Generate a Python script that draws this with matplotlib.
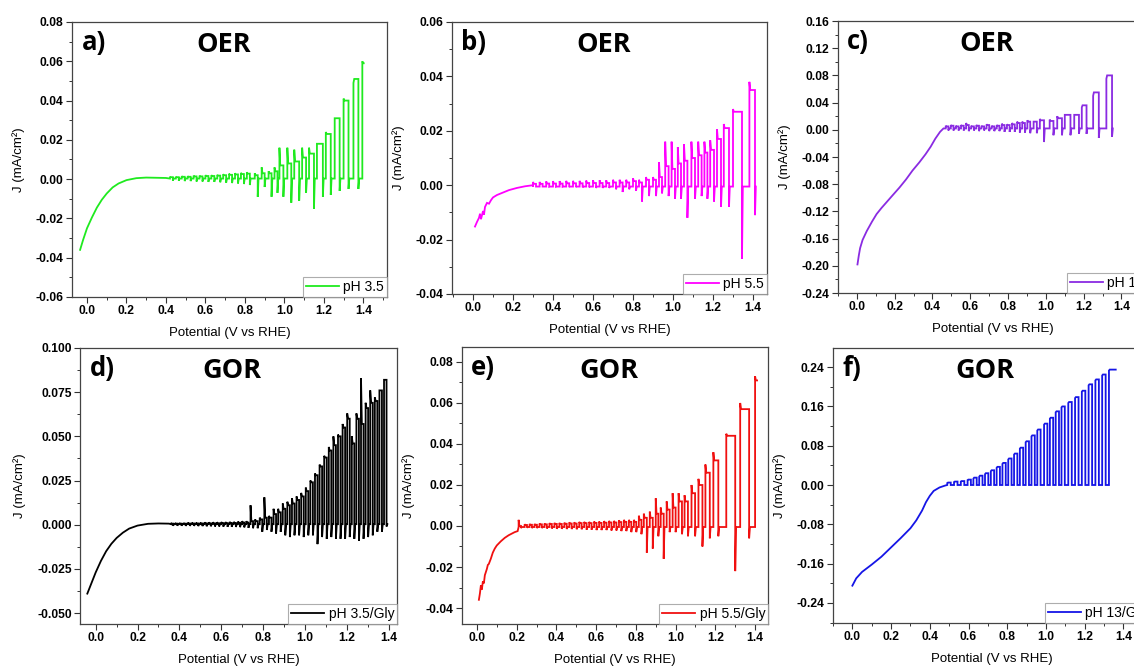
import numpy as np
import matplotlib
matplotlib.use("Agg")
import matplotlib.pyplot as plt
from matplotlib.ticker import MultipleLocator, AutoMinorLocator, FormatStrFormatter

plt.rcParams["font.family"] = ["Liberation Sans", "DejaVu Sans"]
plt.rcParams["axes.unicode_minus"] = False

# ---------------- data ----------------
# Panel a: OER pH 3.5
a_base_V = [-0.035, -0.02, 0.0, 0.025, 0.05, 0.075, 0.10, 0.13, 0.16, 0.20, 0.25, 0.30, 0.40]
a_base_J = [-0.036, -0.031, -0.025, -0.0195, -0.0145, -0.0105, -0.0073, -0.0042, -0.0022, -0.0005, 0.0005, 0.0008, 0.0006]
a_on = [0.42, 0.45, 0.48, 0.51, 0.54, 0.57, 0.60, 0.63, 0.66, 0.69, 0.72, 0.75, 0.78, 0.81,
        0.85, 0.885, 0.92, 0.95, 0.975, 1.015, 1.05, 1.09, 1.125, 1.165, 1.21, 1.255, 1.30, 1.35, 1.395]
a_off = [0.435, 0.465, 0.495, 0.525, 0.555, 0.585, 0.615, 0.645, 0.675, 0.705, 0.735, 0.765, 0.795, 0.825,
         0.865, 0.90, 0.935, 0.965, 0.995, 1.035, 1.075, 1.11, 1.15, 1.195, 1.235, 1.28, 1.325, 1.375, 1.402]
a_peak = [0.0012, 0.0012, 0.0015, 0.0015, 0.0018, 0.0018, 0.002, 0.002, 0.0022, 0.0025, 0.0028, 0.003, 0.0032, 0.0035,
          0.003, 0.006, 0.004, 0.006, 0.016, 0.016, 0.015, 0.016, 0.016, 0.018, 0.024, 0.031, 0.041, 0.049, 0.060]
a_plat = [0.001, 0.001, 0.0012, 0.0012, 0.0014, 0.0014, 0.0016, 0.0016, 0.0018, 0.002, 0.0022, 0.0024, 0.0026, 0.0028,
          0.002, 0.003, 0.003, 0.004, 0.007, 0.008, 0.009, 0.011, 0.013, 0.018, 0.023, 0.031, 0.040, 0.051, 0.059]
a_dip = [-0.0008, -0.0008, -0.001, -0.001, -0.0012, -0.0012, -0.0014, -0.0014, -0.0016, -0.0018, -0.002, -0.0022, -0.0025, -0.003,
         -0.009, -0.004, -0.009, -0.007, -0.009, -0.012, -0.011, -0.007, -0.015, -0.009, -0.008, -0.006, -0.005, -0.005, np.nan]
a_dark = 0.0003

# Panel b: OER pH 5.5
b_base_V = [0.01, 0.02, 0.03, 0.035, 0.04, 0.05, 0.055, 0.06, 0.07, 0.08, 0.09, 0.10, 0.12, 0.15, 0.18, 0.22, 0.26, 0.30]
b_base_J = [-0.0152, -0.0135, -0.012, -0.0105, -0.0125, -0.0095, -0.0108, -0.008, -0.0065, -0.0068, -0.0055, -0.0045,
            -0.0036, -0.0027, -0.0018, -0.001, -0.0004, 0.0]
b_on = [0.30, 0.333, 0.366, 0.40, 0.433, 0.466, 0.50, 0.533, 0.566, 0.60, 0.633, 0.666, 0.70, 0.733, 0.766, 0.80,
        0.83, 0.865, 0.90, 0.93, 0.961, 0.993, 1.024, 1.055, 1.092, 1.126, 1.157, 1.186, 1.22, 1.254, 1.30, 1.382]
b_off = [0.315, 0.348, 0.381, 0.415, 0.448, 0.481, 0.515, 0.548, 0.581, 0.615, 0.648, 0.681, 0.715, 0.748, 0.781, 0.815,
         0.845, 0.88, 0.915, 0.945, 0.978, 1.01, 1.04, 1.072, 1.11, 1.143, 1.172, 1.205, 1.24, 1.28, 1.345, 1.41]
b_peak = [0.0012, 0.0012, 0.0014, 0.0015, 0.0015, 0.0016, 0.0016, 0.0016, 0.0017, 0.0018, 0.0018, 0.0018, 0.002, 0.002, 0.002, 0.0025,
          0.002, 0.003, 0.003, 0.0085, 0.016, 0.016, 0.014, 0.015, 0.016, 0.016, 0.016, 0.0165, 0.0205, 0.0225, 0.028, 0.038]
b_plat = [0.0005, 0.0005, 0.0006, 0.0006, 0.0006, 0.0007, 0.0007, 0.0007, 0.0008, 0.0008, 0.0008, 0.0008, 0.001, 0.001, 0.001, 0.0015,
          0.001, 0.002, 0.002, 0.003, 0.007, 0.006, 0.008, 0.009, 0.010, 0.011, 0.012, 0.013, 0.017, 0.021, 0.027, 0.035]
b_dip = [-0.0005, -0.0005, -0.0006, -0.0006, -0.0006, -0.0007, -0.0007, -0.0008, -0.0008, -0.001, -0.001, -0.001, -0.0015, -0.0025, -0.0015, -0.002,
         -0.006, -0.004, -0.004, -0.003, -0.004, -0.005, -0.005, -0.012, -0.005, -0.004, -0.005, -0.006, -0.008, -0.008, -0.027, -0.011]
b_dark = -0.0005

# Panel c: OER pH 13
c_base_V = [0.003, 0.01, 0.017, 0.03, 0.052, 0.08, 0.104, 0.13, 0.155, 0.19, 0.225, 0.26, 0.294, 0.33, 0.363, 0.39,
            0.415, 0.44, 0.458]
c_base_J = [-0.198, -0.185, -0.174, -0.162, -0.149, -0.135, -0.124, -0.115, -0.107, -0.096, -0.085, -0.073, -0.060,
            -0.048, -0.036, -0.025, -0.013, -0.003, 0.002]
c_on = [0.47, 0.497, 0.524, 0.551, 0.578, 0.605, 0.632, 0.659, 0.686, 0.713, 0.74, 0.767, 0.794, 0.821, 0.848, 0.875, 0.902,
        0.935, 0.968, 1.02, 1.06, 1.10, 1.15, 1.19, 1.25, 1.32]
c_off = [0.484, 0.511, 0.538, 0.565, 0.592, 0.619, 0.646, 0.673, 0.70, 0.727, 0.754, 0.781, 0.808, 0.835, 0.862, 0.889, 0.917,
         0.952, 0.99, 1.04, 1.085, 1.13, 1.175, 1.215, 1.28, 1.35]
c_peak = [0.006, 0.007, 0.006, 0.007, 0.010, 0.006, 0.007, 0.006, 0.008, 0.006, 0.007, 0.009, 0.008, 0.010, 0.012, 0.012, 0.014,
          0.012, 0.016, 0.015, 0.020, 0.022, 0.022, 0.033, 0.050, 0.075]
c_plat = [0.005, 0.006, 0.005, 0.006, 0.007, 0.005, 0.006, 0.005, 0.007, 0.005, 0.006, 0.007, 0.007, 0.008, 0.010, 0.010, 0.012,
          0.012, 0.014, 0.013, 0.017, 0.022, 0.022, 0.036, 0.055, 0.080]
c_dip = [-0.001, -0.001, -0.001, -0.001, -0.002, -0.001, -0.002, -0.001, -0.002, -0.002, -0.002, -0.003, -0.003, -0.003, -0.004, -0.004, -0.005,
         -0.005, -0.018, -0.008, -0.008, -0.008, -0.006, -0.006, -0.012, -0.010]
c_dark = 0.002

# Panel d: GOR pH 3.5 + glycerol
d_base_V = [-0.04, -0.02, 0.0, 0.025, 0.05, 0.075, 0.10, 0.13, 0.16, 0.20, 0.25, 0.30, 0.35]
d_base_J = [-0.039, -0.033, -0.027, -0.0205, -0.015, -0.0108, -0.0075, -0.0045, -0.0022, -0.0005, 0.0005, 0.0007, 0.0006]
d_on = [0.36, 0.38, 0.40, 0.42, 0.44, 0.46, 0.48, 0.50, 0.52, 0.54, 0.56, 0.58, 0.60, 0.62, 0.64, 0.66, 0.68, 0.70, 0.72,
        0.74, 0.762, 0.784, 0.806, 0.828, 0.85, 0.872, 0.894, 0.916, 0.938, 0.96, 0.982, 1.004, 1.026, 1.048, 1.07, 1.092,
        1.114, 1.136, 1.158, 1.18, 1.202, 1.224, 1.246, 1.268, 1.29, 1.312, 1.334, 1.356, 1.378]
d_off = [0.37, 0.39, 0.41, 0.43, 0.45, 0.47, 0.49, 0.51, 0.53, 0.55, 0.57, 0.59, 0.61, 0.63, 0.65, 0.67, 0.69, 0.71, 0.73,
         0.752, 0.774, 0.796, 0.818, 0.84, 0.862, 0.884, 0.906, 0.928, 0.95, 0.972, 0.994, 1.016, 1.038, 1.06, 1.082, 1.104,
         1.126, 1.148, 1.17, 1.192, 1.214, 1.236, 1.258, 1.28, 1.302, 1.324, 1.346, 1.368, 1.39]
d_peak = [0.001, 0.001, 0.001, 0.001, 0.0012, 0.0012, 0.0012, 0.0012, 0.0013, 0.0013, 0.0014, 0.0014, 0.0015, 0.0015, 0.0016, 0.0016, 0.0018, 0.002, 0.002,
          0.011, 0.003, 0.004, 0.0155, 0.005, 0.009, 0.009, 0.012, 0.013, 0.015, 0.016, 0.018, 0.021, 0.025, 0.029, 0.034, 0.039,
          0.044, 0.050, 0.051, 0.057, 0.063, 0.050, 0.063, 0.083, 0.069, 0.076, 0.072, 0.076, 0.082]
d_plat = [0.0006, 0.0006, 0.0006, 0.0006, 0.0007, 0.0007, 0.0007, 0.0007, 0.0008, 0.0008, 0.0008, 0.0008, 0.0009, 0.0009, 0.001, 0.001, 0.0011, 0.0012, 0.0012,
          0.002, 0.002, 0.003, 0.004, 0.004, 0.006, 0.007, 0.009, 0.011, 0.012, 0.014, 0.016, 0.019, 0.024, 0.028, 0.033, 0.038,
          0.042, 0.045, 0.050, 0.055, 0.060, 0.046, 0.060, 0.057, 0.066, 0.069, 0.070, 0.076, 0.082]
d_dip = [-0.0006, -0.0006, -0.0006, -0.0007, -0.0007, -0.0007, -0.0008, -0.0008, -0.0009, -0.0009, -0.001, -0.001, -0.0011, -0.0012, -0.0012, -0.0013, -0.0014, -0.0015, -0.0018,
         -0.002, -0.002, -0.004, -0.003, -0.004, -0.005, -0.004, -0.006, -0.007, -0.006, -0.006, -0.007, -0.006, -0.006, -0.011, -0.007, -0.008,
         -0.007, -0.008, -0.008, -0.008, -0.007, -0.008, -0.009, -0.008, -0.007, -0.006, -0.004, -0.004, -0.001]
d_dark = 0.0003

# Panel e: GOR pH 5.5 + glycerol
e_base_V = [0.01, 0.015, 0.02, 0.025, 0.03, 0.035, 0.04, 0.05, 0.055, 0.06, 0.07, 0.08, 0.09, 0.10, 0.12, 0.14, 0.16,
            0.19, 0.205]
e_base_J = [-0.036, -0.033, -0.029, -0.031, -0.027, -0.028, -0.024, -0.021, -0.019, -0.0185, -0.016, -0.013, -0.011,
            -0.0095, -0.0075, -0.0058, -0.0045, -0.003, -0.0025]
e_on = [0.21, 0.24, 0.265, 0.29, 0.315, 0.34, 0.365, 0.39, 0.415, 0.44, 0.465, 0.49, 0.515, 0.54, 0.565, 0.59, 0.615, 0.64,
        0.665, 0.69, 0.715, 0.74, 0.765,
        0.79, 0.815, 0.84, 0.87, 0.90, 0.925, 0.955, 0.985, 1.015, 1.045, 1.08, 1.115, 1.15, 1.19, 1.255, 1.325, 1.40]
e_off = [0.222, 0.252, 0.277, 0.302, 0.327, 0.352, 0.377, 0.402, 0.427, 0.452, 0.477, 0.502, 0.527, 0.552, 0.577, 0.602, 0.627, 0.652,
         0.677, 0.702, 0.727, 0.752, 0.777,
         0.802, 0.828, 0.855, 0.885, 0.913, 0.94, 0.97, 1.0, 1.032, 1.062, 1.098, 1.135, 1.172, 1.215, 1.30, 1.37, 1.41]
e_peak = [0.003, 0.0008, 0.001, 0.001, 0.0012, 0.0012, 0.0014, 0.0015, 0.0015, 0.0016, 0.0018, 0.0018, 0.002, 0.002, 0.002, 0.0022, 0.0022, 0.0024,
          0.0025, 0.0025, 0.0028, 0.003, 0.003,
          0.003, 0.005, 0.006, 0.007, 0.0135, 0.009, 0.012, 0.016, 0.016, 0.015, 0.020, 0.023, 0.030, 0.036, 0.045, 0.060, 0.073]
e_plat = [0.0, 0.0005, 0.0006, 0.0006, 0.0008, 0.0008, 0.001, 0.001, 0.001, 0.0011, 0.0012, 0.0012, 0.0014, 0.0014, 0.0014, 0.0015, 0.0015, 0.0016,
          0.0017, 0.0017, 0.0019, 0.002, 0.002,
          0.002, 0.003, 0.004, 0.004, 0.006, 0.006, 0.008, 0.009, 0.012, 0.012, 0.016, 0.020, 0.026, 0.032, 0.044, 0.057, 0.071]
e_dip = [-0.001, -0.0008, -0.001, -0.001, -0.001, -0.0012, -0.0012, -0.0014, -0.0014, -0.0015, -0.0015, -0.0016, -0.0016, -0.0018, -0.0018, -0.002, -0.002, -0.002,
         -0.0022, -0.0022, -0.0025, -0.0025, -0.003,
         -0.003, -0.004, -0.013, -0.011, -0.005, -0.016, -0.003, -0.003, -0.004, -0.005, -0.005, -0.010, -0.006, -0.005, -0.022, -0.006, np.nan]
e_dark = -0.0005

# Panel f: GOR pH 13 + glycerol
f_base_V = [0.0, 0.02, 0.05, 0.10, 0.15, 0.20, 0.25, 0.30, 0.33, 0.36, 0.38, 0.40, 0.42, 0.45, 0.48]
f_base_J = [-0.205, -0.19, -0.177, -0.162, -0.146, -0.127, -0.108, -0.088, -0.072, -0.052, -0.035, -0.022, -0.012, -0.005, -0.001]
f_on = [0.49, 0.525, 0.56, 0.595, 0.625, 0.655, 0.685, 0.715, 0.745, 0.775, 0.805, 0.835, 0.865, 0.895, 0.925, 0.955,
        0.99, 1.02, 1.05, 1.08, 1.115, 1.15, 1.185, 1.22, 1.255, 1.29, 1.325]
f_off = [0.508, 0.543, 0.578, 0.612, 0.642, 0.672, 0.702, 0.732, 0.762, 0.792, 0.822, 0.852, 0.882, 0.912, 0.942, 0.972,
         1.007, 1.037, 1.067, 1.097, 1.133, 1.168, 1.203, 1.238, 1.273, 1.308, 1.36]
f_peak = [0.004, 0.006, 0.007, 0.010, 0.013, 0.017, 0.022, 0.028, 0.035, 0.043, 0.052, 0.062, 0.074, 0.087, 0.099, 0.111,
          0.123, 0.135, 0.148, 0.158, 0.167, 0.177, 0.190, 0.203, 0.213, 0.223, 0.233]
f_plat = [0.005, 0.007, 0.008, 0.011, 0.015, 0.019, 0.024, 0.030, 0.037, 0.045, 0.054, 0.064, 0.076, 0.089, 0.101, 0.113,
          0.125, 0.137, 0.150, 0.160, 0.169, 0.179, 0.192, 0.205, 0.215, 0.225, 0.235]
f_dip = [0.0] * 26 + [np.nan]
f_dark = 0.0

x_ticks = [0.0, 0.2, 0.4, 0.6, 0.8, 1.0, 1.2, 1.4]

EDGE = 0.004


def build(bV, bJ, on, off, peak, plat, dip, dark):
    V = list(bV)
    J = list(bJ)
    for i in range(len(on)):
        V += [on[i], on[i], on[i] + EDGE, off[i]]
        J += [dark, peak[i], plat[i], plat[i]]
        if not np.isnan(dip[i]):
            V += [off[i], off[i] + EDGE]
            J += [dip[i], dark]
    return V, J


panels = [
    dict(tag="a)", title="OER", color="#1FEA1F", label="pH 3.5",
         data=(a_base_V, a_base_J, a_on, a_off, a_peak, a_plat, a_dip, a_dark),
         pos=(72, 22, 387, 297), xlim=(-0.076, 1.52), ylim=(-0.06, 0.08), ystep=0.02, fmt="%.2f"),
    dict(tag="b)", title="OER", color="#FF00FF", label="pH 5.5",
         data=(b_base_V, b_base_J, b_on, b_off, b_peak, b_plat, b_dip, b_dark),
         pos=(452, 22, 767, 294), xlim=(-0.105, 1.47), ylim=(-0.04, 0.06), ystep=0.02, fmt="%.2f"),
    dict(tag="c)", title="OER", color="#8A2BE2", label="pH 13",
         data=(c_base_V, c_base_J, c_on, c_off, c_peak, c_plat, c_dip, c_dark),
         pos=(838, 21, 1147, 293), xlim=(-0.1, 1.535), ylim=(-0.24, 0.16), ystep=0.04, fmt="%.2f"),
    dict(tag="d)", title="GOR", color="#000000", label="pH 3.5/Gly",
         data=(d_base_V, d_base_J, d_on, d_off, d_peak, d_plat, d_dip, d_dark),
         pos=(80, 348, 397, 624), xlim=(-0.075, 1.44), ylim=(-0.0562, 0.100), ystep=0.025, fmt="%.3f"),
    dict(tag="e)", title="GOR", color="#F01010", label="pH 5.5/Gly",
         data=(e_base_V, e_base_J, e_on, e_off, e_peak, e_plat, e_dip, e_dark),
         pos=(462, 347, 768, 624), xlim=(-0.075, 1.465), ylim=(-0.0478, 0.0873), ystep=0.02, fmt="%.2f"),
    dict(tag="f)", title="GOR", color="#1515E6", label="pH 13/Gly",
         data=(f_base_V, f_base_J, f_on, f_off, f_peak, f_plat, f_dip, f_dark),
         pos=(833, 348, 1150, 623), xlim=(-0.1, 1.537), ylim=(-0.281, 0.279), ystep=0.08, fmt="%.2f"),
]

W, H = 1134, 669
fig = plt.figure(figsize=(W / 100, H / 100), dpi=100)

for p in panels:
    x0, y0, x1, y1 = p["pos"]
    ax = fig.add_axes([x0 / W, 1 - y1 / H, (x1 - x0) / W, (y1 - y0) / H])
    V, J = build(*p["data"])
    ax.plot(V, J, color=p["color"], lw=1.3, label=p["label"], solid_joinstyle="miter")
    ax.set_xlim(*p["xlim"])
    ax.set_ylim(*p["ylim"])
    ax.set_xticks(x_ticks)
    ax.xaxis.set_major_formatter(FormatStrFormatter("%.1f"))
    ax.yaxis.set_major_locator(MultipleLocator(p["ystep"]))
    ax.yaxis.set_major_formatter(FormatStrFormatter(p["fmt"]))
    ax.xaxis.set_minor_locator(AutoMinorLocator(2))
    ax.yaxis.set_minor_locator(AutoMinorLocator(2))
    ax.tick_params(which="major", direction="out", length=4, width=0.8, color="#333333",
                   labelsize=8.7, pad=2, top=False, right=False)
    ax.tick_params(which="minor", direction="out", length=2.2, width=0.7, color="#333333",
                   top=False, right=False)
    for lbl in ax.get_xticklabels() + ax.get_yticklabels():
        lbl.set_fontweight("bold")
    for s in ax.spines.values():
        s.set_color("#444444")
        s.set_linewidth(0.9)
    ax.set_xlabel("Potential (V vs RHE)", fontsize=9.5, labelpad=7)
    ax.set_ylabel("J (mA/cm²)", fontsize=9.5, labelpad=8)
    ax.text(0.03, 0.925, p["tag"], transform=ax.transAxes, fontsize=18.5, fontweight="bold",
            family=["Open Sans", "DejaVu Sans"], va="center", ha="left")
    ax.text(0.48, 0.915, p["title"], transform=ax.transAxes, fontsize=19.5, fontweight="bold",
            family=["Open Sans", "DejaVu Sans"], va="center", ha="center")
    leg = ax.legend(loc="lower right", bbox_to_anchor=(1.0, 0.0), borderaxespad=0.0, fontsize=10,
                    frameon=True, fancybox=False, handlelength=2.4, handletextpad=0.3,
                    borderpad=0.2)
    leg.get_frame().set_edgecolor("#999999")
    leg.get_frame().set_linewidth(0.8)

fig.savefig("out.png", dpi=100)
